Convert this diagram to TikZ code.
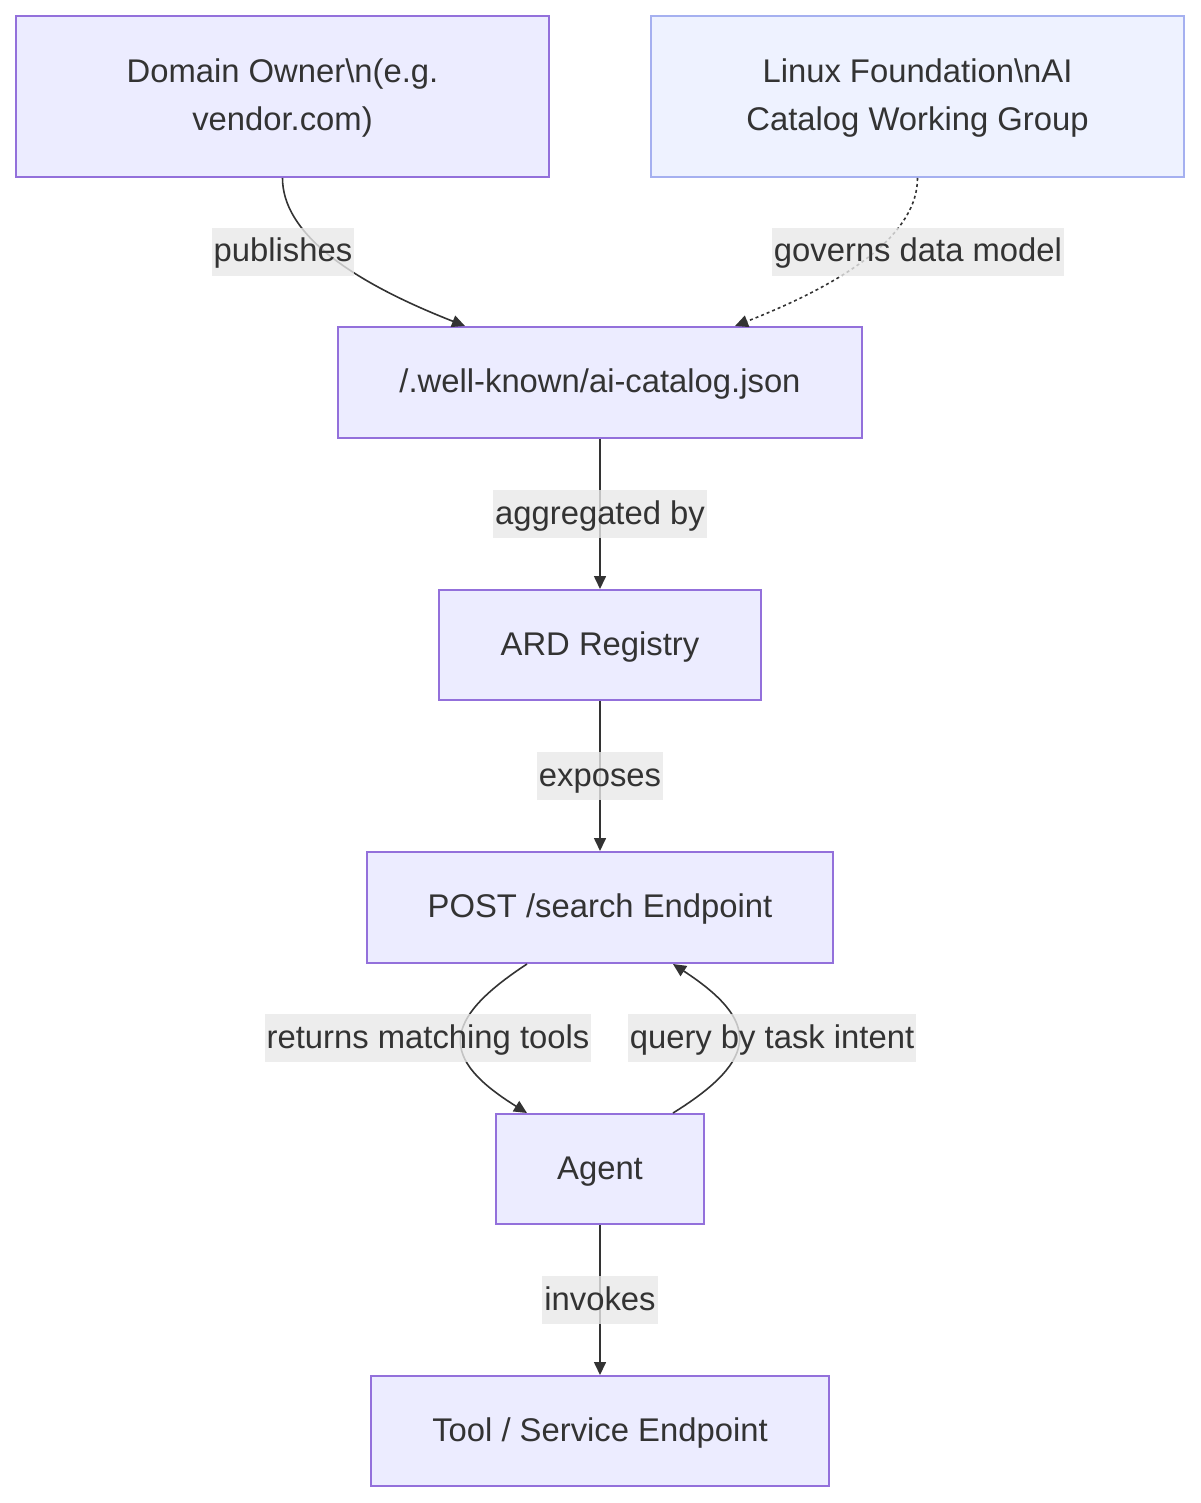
\documentclass[tikz,border=0pt]{standalone}
\usepackage{fontspec}
\setmainfont{Liberation Sans}
\usetikzlibrary{arrows.meta}
\definecolor{nfill}{HTML}{ECECFF}
\definecolor{nstroke}{HTML}{9370DB}
\definecolor{lffill}{HTML}{EEF2FF}
\definecolor{lfstroke}{HTML}{A5B0F0}
\definecolor{txt}{HTML}{333333}
\definecolor{lblbg}{HTML}{E8E8E8}
\newcommand{\mstrut}{\rule[-7pt]{0pt}{24pt}}
\tikzset{
  box/.style={draw=nstroke, fill=nfill, line width=1pt, text=txt,
    font=\fontsize{16.4}{24}\selectfont, align=center, inner sep=0pt},
  lfbox/.style={box, draw=lfstroke, fill=lffill},
  lbl/.style={fill=lblbg, fill opacity=0.8, text opacity=1, text=txt,
    font=\fontsize{16.4}{24}\selectfont, inner xsep=1pt, inner ysep=0pt},
  edge/.style={draw=txt, line width=0.8pt, -{Triangle[length=6.5pt,width=6pt]}},
  dotedge/.style={edge, dash pattern=on 1.5pt off 1.5pt}
}
\begin{document}
\begin{tikzpicture}[x=0.5pt,y=-0.5pt]
\useasboundingbox (0,0) rectangle (1200,1503);
\node[box, minimum width=266.5pt, minimum height=80.5pt] (dom) at (282.5,96.5)
  {\mstrut Domain Owner\textbackslash n(e.g.\\\mstrut vendor.com)};
\node[lfbox, minimum width=266.5pt, minimum height=80.5pt] (lf) at (917.5,96.5)
  {\mstrut Linux Foundation\textbackslash nAI\\\mstrut Catalog Working Group};
\node[box, minimum width=262pt, minimum height=55.5pt] (wk) at (600,382.5)
  {\mstrut /.well-known/ai-catalog.json};
\node[box, minimum width=161pt, minimum height=55pt] (ard) at (600,645)
  {\mstrut ARD Registry};
\node[box, minimum width=233pt, minimum height=55.5pt] (post) at (600,907.5)
  {\mstrut POST /search Endpoint};
\node[box, minimum width=104pt, minimum height=55pt] (agent) at (600,1169)
  {\mstrut Agent};
\node[box, minimum width=229pt, minimum height=55pt] (tool) at (600,1431)
  {\mstrut Tool / Service Endpoint};

\draw[edge] (dom.south) .. controls +(0,53) and +(-120,-47) .. ([xshift=-67.5pt]wk.north);
\draw[dotedge] (lf.south) .. controls +(0,53) and +(120,-47) .. ([xshift=67.5pt]wk.north);
\draw[edge] (wk) -- (ard);
\draw[edge] (ard) -- (post);
\draw[edge] ([xshift=-36.5pt]post.south) .. controls +(-87,57) and +(-87,-54) .. ([xshift=-36.5pt]agent.north);
\draw[edge] ([xshift=36.5pt]agent.north) .. controls +(87,-54) and +(87,57) .. ([xshift=36.5pt]post.south);
\draw[edge] (agent) -- (tool);

\node[lbl] (l1) at (283,252) {\mstrut publishes};
\node[lbl] (l2) at (918,252) {\mstrut governs data model};
\node[lbl] (l3) at (600,514) {\mstrut aggregated by};
\node[lbl] (l4) at (600,776) {\mstrut exposes};
\node[lbl] (l5) at (428,1038) {\mstrut returns matching tools};
\node[lbl] (l6) at (772,1038) {\mstrut query by task intent};
\node[lbl] (l7) at (600,1300) {\mstrut invokes};
\end{tikzpicture}
\end{document}
